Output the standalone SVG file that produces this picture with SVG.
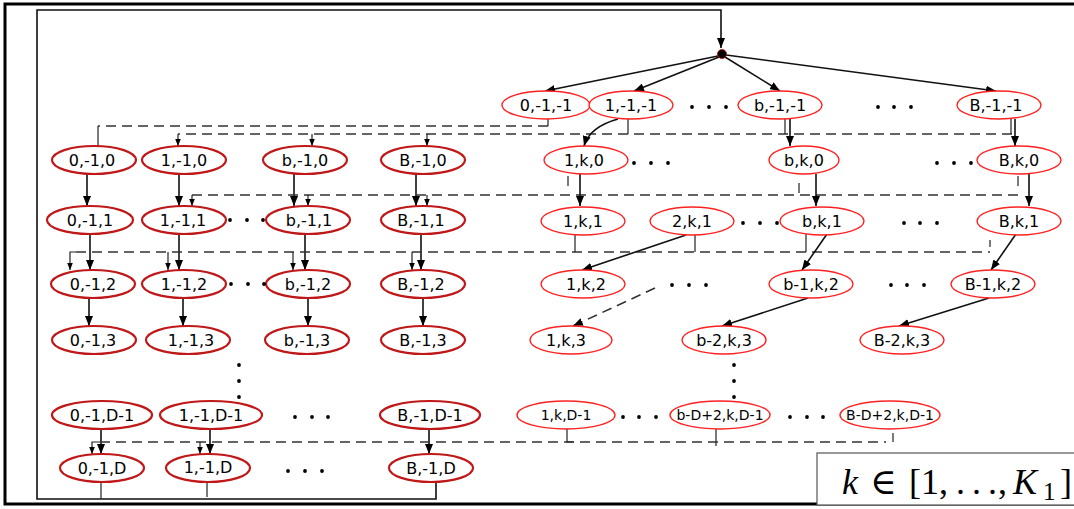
<svg xmlns="http://www.w3.org/2000/svg" width="1074" height="509" viewBox="0 0 1074 509">
  <style>
    .lbl { font-family: "DejaVu Sans", "Liberation Sans", sans-serif; font-size: 16px; text-anchor: middle; fill: #000; }
    .sm { font-size: 14px; }
    .dk { fill: #fff; stroke: #c01818; stroke-width: 2.2; }
    .br { fill: #fff; stroke: #ff2020; stroke-width: 1.4; }
    .sol { fill: none; stroke: #111; stroke-width: 1.6; }
    .thin { fill: none; stroke: #222; stroke-width: 1.2; }
    .dash { fill: none; stroke: #333; stroke-width: 1.6; stroke-dasharray: 10 6; }
    .dot { fill: #000; }
    .math { font-family: "Liberation Serif", "DejaVu Serif", serif; font-size: 36px; fill: #000; }
  </style>
  <defs>
    <marker id="ah" viewBox="0 0 10 8" refX="10" refY="4" markerWidth="10" markerHeight="8" markerUnits="userSpaceOnUse" orient="auto">
      <path d="M0,0 L10,4 L0,8 z" fill="#000"/>
    </marker>
    <marker id="as" viewBox="0 0 10 8" refX="10" refY="4" markerWidth="7" markerHeight="6" markerUnits="userSpaceOnUse" orient="auto">
      <path d="M0,0 L10,4 L0,8 z" fill="#000"/>
    </marker>
  </defs>

  <rect width="1074" height="509" fill="#fff"/>
  <!-- outer frame -->
  <rect x="5" y="4" width="1080" height="500" fill="none" stroke="#000" stroke-width="3"/>

  <g id="connectors">
    <!-- feedback loop back to the root -->
    <path class="sol" d="M436,482 V499 H37 V10 H721 V48" stroke-width="2" marker-end="url(#ah)"/>
    <!-- root fan-out -->
    <path class="sol" d="M718,56 L545,91" marker-end="url(#ah)"/>
    <path class="sol" d="M719,57 L634,91" marker-end="url(#ah)"/>
    <path class="sol" d="M725,57 L780,91" marker-end="url(#ah)"/>
    <path class="sol" d="M726,55 L996,91" marker-end="url(#ah)"/>

    <!-- level -1 to level 0 -->
    <path class="dash" d="M548,126 H98"/>
    <path class="thin" d="M548,119 V126 M98,126 V146"/>
    <path class="dash" d="M1012,134 H178"/>
    <path class="thin" d="M628,119 V134 M785,119 V134 M1011,119 V134"/>
    <path class="thin" d="M178,134 V146" marker-end="url(#as)"/>
    <path class="thin" d="M312,134 V146" marker-end="url(#as)"/>
    <path class="thin" d="M427,134 V146" marker-end="url(#as)"/>
    <path class="sol" d="M618,119 C600,124 588,132 584,146" marker-end="url(#ah)"/>
    <path class="sol" d="M790,119 V146" marker-end="url(#ah)"/>
    <path class="sol" d="M1015,119 V146" marker-end="url(#ah)"/>

    <!-- level 0 to level 1 -->
    <path class="sol" d="M87,174 V206" marker-end="url(#ah)"/>
    <path class="sol" d="M179,174 V206" marker-end="url(#ah)"/>
    <path class="sol" d="M294,174 V206" marker-end="url(#ah)"/>
    <path class="sol" d="M416,174 V206" marker-end="url(#ah)"/>
    <path class="dash" d="M192,195 H1019"/>
    <path class="thin" d="M192,195 V206" marker-end="url(#as)"/>
    <path class="thin" d="M308,195 V206" marker-end="url(#as)"/>
    <path class="thin" d="M427,195 V206" marker-end="url(#as)"/>
    <path class="thin" d="M568,176 V186 M799,183 V193 M1018,176 V186"/>
    <path class="sol" d="M580,174 V206" marker-end="url(#ah)"/>
    <path class="sol" d="M816,174 V206" marker-end="url(#ah)"/>
    <path class="sol" d="M1029,174 V206" marker-end="url(#ah)"/>

    <!-- level 1 to level 2 -->
    <path class="sol" d="M90,234 V270" marker-end="url(#ah)"/>
    <path class="sol" d="M179,234 V270" marker-end="url(#ah)"/>
    <path class="sol" d="M305,234 V270" marker-end="url(#ah)"/>
    <path class="sol" d="M421,234 V270" marker-end="url(#ah)"/>
    <path class="dash" d="M76,252 H990"/>
    <path class="thin" d="M76,252 H70 V270" marker-end="url(#as)"/>
    <path class="thin" d="M168,252 V270" marker-end="url(#as)"/>
    <path class="thin" d="M293,252 V270" marker-end="url(#as)"/>
    <path class="thin" d="M412,252 V270" marker-end="url(#as)"/>
    <path class="thin" d="M575,234 V252 M695,235 V252 M806,234 V252 M990,240 V247"/>
    <path class="sol" d="M686,235 L582,270" marker-end="url(#ah)"/>
    <path class="sol" d="M827,234 L802,270" marker-end="url(#ah)"/>
    <path class="sol" d="M1016,234 L991,270" marker-end="url(#ah)"/>

    <!-- level 2 to level 3 -->
    <path class="sol" d="M89,298 V326" marker-end="url(#ah)"/>
    <path class="sol" d="M183,298 V326" marker-end="url(#ah)"/>
    <path class="sol" d="M308,298 V326" marker-end="url(#ah)"/>
    <path class="sol" d="M423,298 V326" marker-end="url(#ah)"/>
    <path class="dash" d="M655,288 L573,326" marker-end="url(#ah)" stroke-dasharray="12 7"/>
    <path class="sol" d="M808,298 L722,326" marker-end="url(#ah)"/>
    <path class="sol" d="M989,298 L899,326" marker-end="url(#ah)"/>

    <!-- level D-1 to level D -->
    <path class="sol" d="M101,429 V454" marker-end="url(#ah)"/>
    <path class="sol" d="M210,429 V454" marker-end="url(#ah)"/>
    <path class="sol" d="M429,429 V454" marker-end="url(#ah)"/>
    <path class="dash" d="M100,442 H886"/>
    <path class="thin" d="M100,442 H92 V454" marker-end="url(#as)"/>
    <path class="thin" d="M200,442 V454" marker-end="url(#as)"/>
    <path class="thin" d="M567,429 V442 H574 M716,429 V446 M893,433 V442"/>

    <!-- level D exits -->
    <path class="thin" d="M101,482 V499 M207,482 V497" stroke-width="1.4"/>
  </g>

  <!-- root -->
  <g id="root">
    <circle cx="722" cy="54" r="4.5" fill="#000" stroke="#c00" stroke-width="0.8"/>
  </g>

  <!-- level -1 -->
  <g id="n0m1m1"><ellipse class="br" cx="546" cy="105" rx="44" ry="14"/><text class="lbl" x="546" y="111">0,-1,-1</text></g>
  <g id="n1m1m1"><ellipse class="br" cx="631" cy="105" rx="42" ry="14"/><text class="lbl" x="631" y="111">1,-1,-1</text></g>
  <g id="nbm1m1"><ellipse class="br" cx="780" cy="105" rx="42" ry="14"/><text class="lbl" x="780" y="111">b,-1,-1</text></g>
  <g id="nBm1m1"><ellipse class="br" cx="999" cy="105" rx="42" ry="14"/><text class="lbl" x="996" y="111">B,-1,-1</text></g>

  <!-- level 0 -->
  <g id="n0m10"><ellipse class="dk" cx="94" cy="160" rx="42" ry="14"/><text class="lbl" x="92" y="166">0,-1,0</text></g>
  <g id="n1m10"><ellipse class="dk" cx="184" cy="160" rx="42" ry="14"/><text class="lbl" x="184" y="166">1,-1,0</text></g>
  <g id="nbm10"><ellipse class="dk" cx="305" cy="160" rx="42" ry="14"/><text class="lbl" x="305" y="166">b,-1,0</text></g>
  <g id="nBm10"><ellipse class="dk" cx="423" cy="160" rx="42" ry="14"/><text class="lbl" x="423" y="166">B,-1,0</text></g>
  <g id="n1k0"><ellipse class="br" cx="586" cy="160" rx="42" ry="14"/><text class="lbl" x="584" y="166">1,k,0</text></g>
  <g id="nbk0"><ellipse class="br" cx="804" cy="160" rx="35" ry="14"/><text class="lbl" x="804" y="166">b,k,0</text></g>
  <g id="nBk0"><ellipse class="br" cx="1019" cy="160" rx="42" ry="14"/><text class="lbl" x="1019" y="166">B,k,0</text></g>

  <!-- level 1 -->
  <g id="n0m11"><ellipse class="dk" cx="90" cy="220" rx="43" ry="14"/><text class="lbl" x="90" y="226">0,-1,1</text></g>
  <g id="n1m11"><ellipse class="dk" cx="184" cy="220" rx="42" ry="14"/><text class="lbl" x="183" y="226">1,-1,1</text></g>
  <g id="nbm11"><ellipse class="dk" cx="308" cy="220" rx="42" ry="14"/><text class="lbl" x="309" y="226">b,-1,1</text></g>
  <g id="nBm11"><ellipse class="dk" cx="423" cy="220" rx="42" ry="14"/><text class="lbl" x="421" y="226">B,-1,1</text></g>
  <g id="n1k1"><ellipse class="br" cx="583" cy="221" rx="42" ry="14"/><text class="lbl" x="583" y="227">1,k,1</text></g>
  <g id="n2k1"><ellipse class="br" cx="692" cy="221" rx="42" ry="14"/><text class="lbl" x="692" y="227">2,k,1</text></g>
  <g id="nbk1"><ellipse class="br" cx="822" cy="221" rx="42" ry="14"/><text class="lbl" x="822" y="227">b,k,1</text></g>
  <g id="nBk1"><ellipse class="br" cx="1019" cy="221" rx="42" ry="14"/><text class="lbl" x="1019" y="227">B,k,1</text></g>

  <!-- level 2 -->
  <g id="n0m12"><ellipse class="dk" cx="93" cy="284" rx="42" ry="14"/><text class="lbl" x="93" y="290">0,-1,2</text></g>
  <g id="n1m12"><ellipse class="dk" cx="184" cy="284" rx="42" ry="14"/><text class="lbl" x="184" y="290">1,-1,2</text></g>
  <g id="nbm12"><ellipse class="dk" cx="308" cy="284" rx="42" ry="14"/><text class="lbl" x="308" y="290">b,-1,2</text></g>
  <g id="nBm12"><ellipse class="dk" cx="423" cy="284" rx="42" ry="14"/><text class="lbl" x="421" y="290">B,-1,2</text></g>
  <g id="n1k2"><ellipse class="br" cx="583" cy="284" rx="42" ry="14"/><text class="lbl" x="586" y="290">1,k,2</text></g>
  <g id="nbm1k2"><ellipse class="br" cx="811" cy="284" rx="42" ry="14"/><text class="lbl" x="811" y="290">b-1,k,2</text></g>
  <g id="nBm1k2"><ellipse class="br" cx="993" cy="284" rx="42" ry="14"/><text class="lbl" x="993" y="290">B-1,k,2</text></g>

  <!-- level 3 -->
  <g id="n0m13"><ellipse class="dk" cx="94" cy="340" rx="42" ry="14"/><text class="lbl" x="93" y="346">0,-1,3</text></g>
  <g id="n1m13"><ellipse class="dk" cx="188" cy="340" rx="42" ry="14"/><text class="lbl" x="191" y="346">1,-1,3</text></g>
  <g id="nbm13"><ellipse class="dk" cx="307" cy="340" rx="42" ry="14"/><text class="lbl" x="307" y="346">b,-1,3</text></g>
  <g id="nBm13"><ellipse class="dk" cx="423" cy="340" rx="42" ry="14"/><text class="lbl" x="423" y="346">B,-1,3</text></g>
  <g id="n1k3"><ellipse class="br" cx="571" cy="340" rx="41" ry="14"/><text class="lbl" x="566" y="346">1,k,3</text></g>
  <g id="nbm2k3"><ellipse class="br" cx="724" cy="340" rx="42" ry="14"/><text class="lbl" x="724" y="346">b-2,k,3</text></g>
  <g id="nBm2k3"><ellipse class="br" cx="902" cy="340" rx="42" ry="14"/><text class="lbl" x="902" y="346">B-2,k,3</text></g>

  <!-- level D-1 -->
  <g id="n0m1Dm1"><ellipse class="dk" cx="102" cy="415" rx="50" ry="14"/><text class="lbl" x="102" y="421">0,-1,D-1</text></g>
  <g id="n1m1Dm1"><ellipse class="dk" cx="211" cy="415" rx="51" ry="14"/><text class="lbl" x="211" y="421">1,-1,D-1</text></g>
  <g id="nBm1Dm1"><ellipse class="dk" cx="430" cy="415" rx="50" ry="14"/><text class="lbl" x="430" y="421">B,-1,D-1</text></g>
  <g id="n1kDm1"><ellipse class="br" cx="566" cy="415" rx="49" ry="14"/><text class="lbl sm" x="566" y="420">1,k,D-1</text></g>
  <g id="nbDkDm1"><ellipse class="br" cx="720" cy="415" rx="50" ry="14"/><text class="lbl sm" x="720" y="420">b-D+2,k,D-1</text></g>
  <g id="nBDkDm1"><ellipse class="br" cx="890" cy="415" rx="50" ry="14"/><text class="lbl sm" x="890" y="420">B-D+2,k,D-1</text></g>

  <!-- level D -->
  <g id="n0m1D"><ellipse class="dk" cx="102" cy="468" rx="42" ry="14"/><text class="lbl" x="102" y="474">0,-1,D</text></g>
  <g id="n1m1D"><ellipse class="dk" cx="208" cy="468" rx="42" ry="14"/><text class="lbl" x="208" y="473">1,-1,D</text></g>
  <g id="nBm1D"><ellipse class="dk" cx="431" cy="468" rx="42" ry="14"/><text class="lbl" x="431" y="474">B,-1,D</text></g>

  <!-- ellipsis dots -->
  <g id="ellipses">
    <circle class="dot" cx="692" cy="107" r="1.9"/><circle class="dot" cx="709" cy="107" r="1.9"/><circle class="dot" cx="726" cy="107" r="1.9"/>
    <circle class="dot" cx="878" cy="107" r="1.9"/><circle class="dot" cx="894" cy="107" r="1.9"/><circle class="dot" cx="911" cy="107" r="1.9"/>
    <circle class="dot" cx="634" cy="163" r="1.9"/><circle class="dot" cx="651" cy="163" r="1.9"/><circle class="dot" cx="668" cy="163" r="1.9"/>
    <circle class="dot" cx="937" cy="163" r="1.9"/><circle class="dot" cx="954" cy="163" r="1.9"/><circle class="dot" cx="971" cy="163" r="1.9"/>
    <circle class="dot" cx="230" cy="220" r="1.9"/><circle class="dot" cx="247" cy="220" r="1.9"/><circle class="dot" cx="263" cy="220" r="1.9"/>
    <circle class="dot" cx="743" cy="223" r="1.9"/><circle class="dot" cx="760" cy="223" r="1.9"/><circle class="dot" cx="777" cy="223" r="1.9"/>
    <circle class="dot" cx="904" cy="223" r="1.9"/><circle class="dot" cx="920" cy="223" r="1.9"/><circle class="dot" cx="937" cy="223" r="1.9"/>
    <circle class="dot" cx="231" cy="284" r="1.9"/><circle class="dot" cx="248" cy="284" r="1.9"/><circle class="dot" cx="264" cy="284" r="1.9"/>
    <circle class="dot" cx="672" cy="285" r="1.9"/><circle class="dot" cx="689" cy="285" r="1.9"/><circle class="dot" cx="706" cy="285" r="1.9"/>
    <circle class="dot" cx="891" cy="285" r="1.9"/><circle class="dot" cx="907" cy="285" r="1.9"/><circle class="dot" cx="924" cy="285" r="1.9"/>
    <circle class="dot" cx="239" cy="365" r="1.9"/><circle class="dot" cx="239" cy="381" r="1.9"/><circle class="dot" cx="239" cy="397" r="1.9"/>
    <circle class="dot" cx="734" cy="365" r="1.9"/><circle class="dot" cx="734" cy="381" r="1.9"/><circle class="dot" cx="734" cy="397" r="1.9"/>
    <circle class="dot" cx="295" cy="417" r="1.9"/><circle class="dot" cx="312" cy="417" r="1.9"/><circle class="dot" cx="328" cy="417" r="1.9"/>
    <circle class="dot" cx="623" cy="417" r="1.9"/><circle class="dot" cx="639" cy="417" r="1.9"/><circle class="dot" cx="656" cy="417" r="1.9"/>
    <circle class="dot" cx="790" cy="417" r="1.9"/><circle class="dot" cx="807" cy="417" r="1.9"/><circle class="dot" cx="823" cy="417" r="1.9"/>
    <circle class="dot" cx="288" cy="471" r="1.9"/><circle class="dot" cx="305" cy="471" r="1.9"/><circle class="dot" cx="322" cy="471" r="1.9"/>
  </g>

  <!-- range of k -->
  <g id="legend">
    <rect x="817" y="453" width="270" height="52" fill="#fff" stroke="#555" stroke-width="1.2"/>
    <text class="math" y="494"><tspan x="842" font-style="italic">k</tspan><tspan x="870">∈</tspan><tspan x="909">[1,</tspan><tspan x="956">.</tspan><tspan x="972">.</tspan><tspan x="988">.</tspan><tspan x="998">,</tspan><tspan x="1013" font-style="italic">K</tspan><tspan x="1043" y="500" font-size="25">1</tspan><tspan x="1060" y="494">]</tspan></text>
  </g>
</svg>
